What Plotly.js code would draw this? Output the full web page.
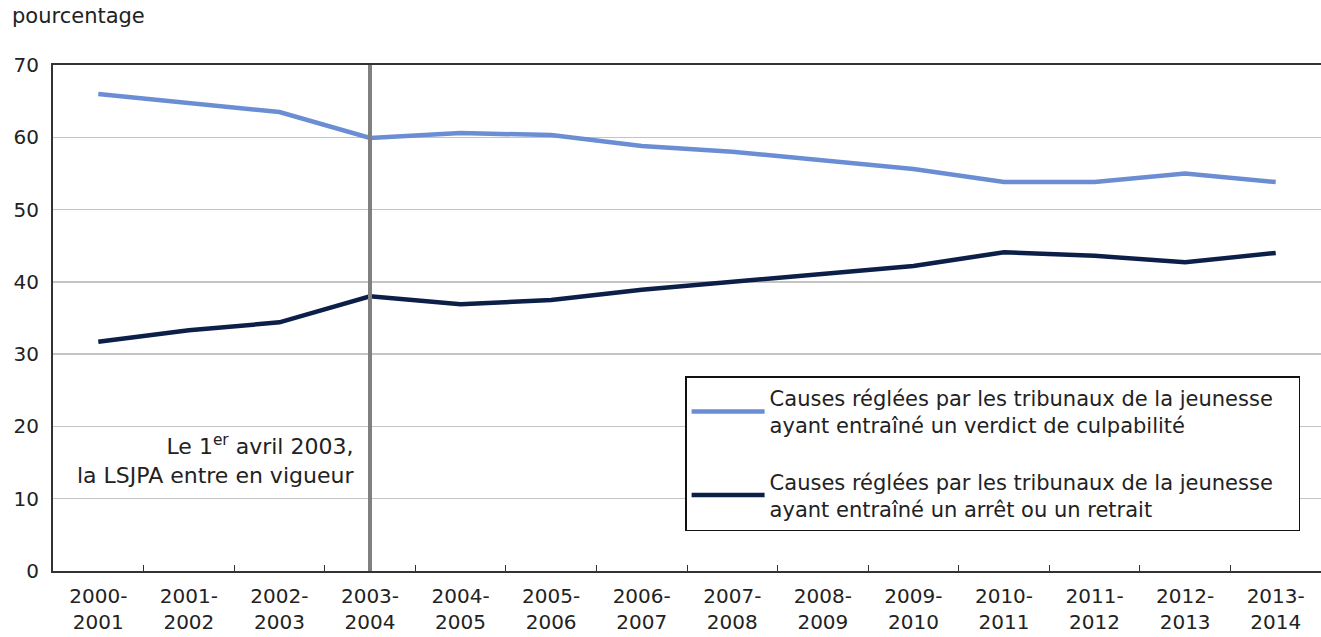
<!DOCTYPE html>
<html><head><meta charset="utf-8">
<script src="https://cdn.plot.ly/plotly-3.0.1.min.js"></script>
<style>body{margin:0;background:#fff}#chart{width:1321px;height:637px}</style>
</head><body><div id="chart"></div>
<script>
const categories = ["2000-<br>2001","2001-<br>2002","2002-<br>2003","2003-<br>2004","2004-<br>2005","2005-<br>2006","2006-<br>2007","2007-<br>2008","2008-<br>2009","2009-<br>2010","2010-<br>2011","2011-<br>2012","2012-<br>2013","2013-<br>2014"];
const verdictCulpabilite = [66.0,64.7,63.5,59.9,60.6,60.3,58.8,58.0,56.8,55.6,53.8,53.8,55.0,53.8];
const arretRetrait = [31.7,33.3,34.4,38.0,36.9,37.5,38.9,40.0,41.1,42.2,44.1,43.6,42.7,44.0];
const seriesNames = ["Causes réglées par les tribunaux de la jeunesse&nbsp;&nbsp;&nbsp;<br>ayant entraîné un verdict de culpabilité","Causes réglées par les tribunaux de la jeunesse&nbsp;&nbsp;&nbsp;<br>ayant entraîné un arrêt ou un retrait"];
const yTicks = [0,10,20,30,40,50,60,70];

const font = "DejaVu Sans, Verdana, sans-serif";
const traces = [
  {x: categories, y: verdictCulpabilite, name: seriesNames[0], type:"scatter", mode:"lines", legendgroup:"a",
   line:{color:"#6a8dd3", width:4.5}},
  {x: categories, y: arretRetrait, name: seriesNames[1], type:"scatter", mode:"lines", legendgroup:"b",
   line:{color:"#0c1f48", width:4.5}}
];
const layout = {
  width:1321, height:637,
  margin:{l:53, r:0, t:65, b:66},
  paper_bgcolor:"#fff", plot_bgcolor:"#fff",
  font:{family:font, size:20, color:"#222"},
  showlegend:true,
  legend:{x:0.4985, y:0.385, xanchor:"left", yanchor:"top", bgcolor:"#fff", bordercolor:"#111", borderwidth:1.5,
    font:{family:font, size:21, color:"#222"}, tracegroupgap:26, itemwidth:73},
  xaxis:{type:"category", showgrid:false, showline:true, linecolor:"#333", linewidth:2, mirror:true,
    ticks:"inside", ticklen:6, tickcolor:"#333", tickson:"boundaries", tickfont:{size:20}, range:[-0.5,13.5],
    ticklabelstandoff:6},
  yaxis:{range:[0,70], tickvals:yTicks, showgrid:true, gridcolor:"#c4c4c4", gridwidth:1.5, showline:true,
    linecolor:"#333", linewidth:2, ticks:"", tickfont:{size:20}, zeroline:false, ticklabelstandoff:8},
  shapes:[{type:"line", xref:"x", yref:"paper", x0:3, x1:3, y0:0, y1:1, line:{color:"#808080", width:4}}],
  annotations:[
    {xref:"paper", yref:"paper", x:-0.034, y:1.07, xanchor:"left", yanchor:"bottom", text:"pourcentage", showarrow:false, font:{size:21}},
    {xref:"x", yref:"y", x:2.85, y:15.4, xanchor:"right", yanchor:"middle", align:"right", showarrow:false,
     text:"Le 1<sup>er</sup> avril 2003,<br>la LSJPA entre en vigueur", font:{size:22}}
  ]
};
Plotly.newPlot("chart", traces, layout, {displayModeBar:false, staticPlot:true});
</script></body></html>
